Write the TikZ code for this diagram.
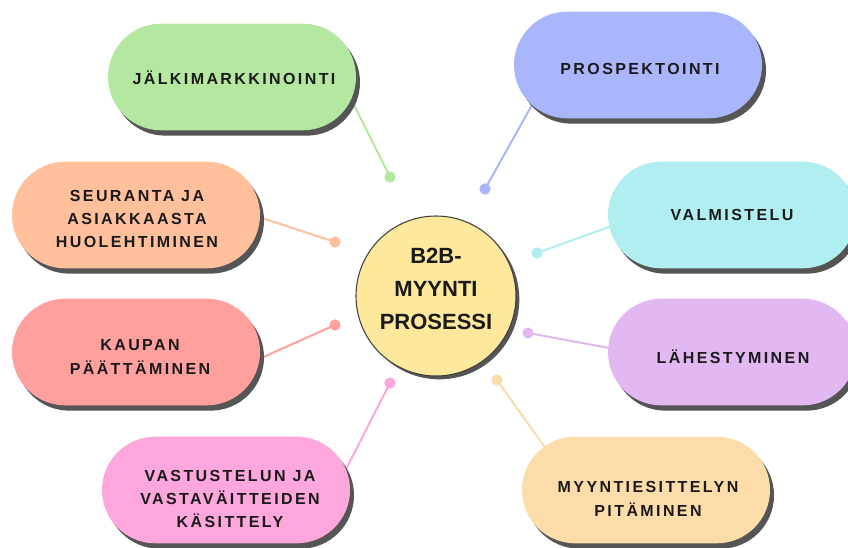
\documentclass[tikz,border=0pt]{standalone}
\usepackage{fontspec}
\setmainfont{Liberation Sans}
\newfontfamily\pillfont{Liberation Sans}[LetterSpace=15]
\usetikzlibrary{shapes.misc,shadows}
\definecolor{cgreen}{HTML}{B4E7A0}
\definecolor{cblue}{HTML}{A9B6FB}
\definecolor{ccyan}{HTML}{B1EEF0}
\definecolor{corange}{HTML}{FFC09B}
\definecolor{cred}{HTML}{FFA09E}
\definecolor{clilac}{HTML}{E2B8F2}
\definecolor{cpink}{HTML}{FDA7DC}
\definecolor{cpeach}{HTML}{FCDDAA}
\definecolor{cyel}{HTML}{FDE89C}
\definecolor{txt}{HTML}{1A1A1A}
\definecolor{shd}{HTML}{555555}
\tikzset{
  pill/.style={rounded rectangle, fill=#1, minimum width=186pt, minimum height=80pt,
    inner sep=0pt,
    drop shadow={shadow xshift=3pt, shadow yshift=-4pt, fill=shd, opacity=1}},
  ptext/.style={align=center, text=txt, inner sep=0pt,
    font=\pillfont\bfseries\fontsize{12}{17.5}\selectfont},
  link/.style={draw=#1, line width=1.5pt},
  dotn/.style={circle, fill=#1, minimum size=8.5pt, inner sep=0pt},
}
\begin{document}
\begin{tikzpicture}[x=0.75pt,y=-0.75pt]
\useasboundingbox (0,0) rectangle (848,548);
\clip (0,0) rectangle (848,548);
% dots
\node[dotn=cgreen]  (dg) at (390,177) {};
\node[dotn=cblue]   (db) at (485,189) {};
\node[dotn=corange] (do) at (335,242) {};
\node[dotn=ccyan]   (dc) at (537,253) {};
\node[dotn=cred]    (dr) at (335,325) {};
\node[dotn=clilac]  (dl) at (528,333) {};
\node[dotn=cpink]   (dp) at (390,383) {};
\node[dotn=cpeach]  (dy) at (497,380) {};
% connector ends inside pills
\coordinate (eg) at (350,97);
\coordinate (eb) at (537,96);
\coordinate (ec) at (620,223);
\coordinate (eo) at (250,214);
\coordinate (er) at (250,363);
\coordinate (el) at (620,350);
\coordinate (ep) at (342,477);
\coordinate (ey) at (551,456);
\draw[link=cgreen]  (dg.center) -- (eg);
\draw[link=cblue]   (db.center) -- (eb);
\draw[link=ccyan]   (dc.center) -- (ec);
\draw[link=corange] (do.center) -- (eo);
\draw[link=cred]    (dr.center) -- (er);
\draw[link=clilac]  (dl.center) -- (el);
\draw[link=cpink]   (dp.center) -- (ep);
\draw[link=cpeach]  (dy.center) -- (ey);
% pills
\node[pill=cgreen]  (g) at (232,77)  {};
\node[pill=cblue]   (b) at (638,65)  {};
\node[pill=ccyan]   (c) at (732,215) {};
\node[pill=corange] (o) at (136,215) {};
\node[pill=cred]    (r) at (136,352) {};
\node[pill=clilac]  (l) at (732,352) {};
\node[pill=cpink]   (p) at (226,490) {};
\node[pill=cpeach]  (y) at (646,490) {};
% pill texts
\node[ptext] (gt) at (234,78)  {JÄLKIMARKKINOINTI};
\node[ptext] (bt) at (640,69)  {PROSPEKTOINTI};
\node[ptext] (ct) at (732,215) {VALMISTELU};
\node[ptext] (ot) at (137,219) {SEURANTA JA\\ASIAKKAASTA\\HUOLEHTIMINEN};
\node[ptext] (rt) at (140,357) {KAUPAN\\PÄÄTTÄMINEN};
\node[ptext] (lt) at (733,357) {LÄHESTYMINEN};
\node[ptext] (pt) at (230,499) {VASTUSTELUN JA\\VASTAVÄITTEIDEN\\KÄSITTELY};
\node[ptext] (yt) at (648,499) {MYYNTIESITTELYN\\PITÄMINEN};
% center
\node[circle, fill=cyel, draw=black!75, line width=0.8pt, minimum size=120pt, inner sep=0pt,
  drop shadow={shadow xshift=2.5pt, shadow yshift=-2.5pt, fill=shd, opacity=1}]
  (m) at (436,296) {};
\node[align=center, text=txt, font=\bfseries\fontsize{16.5}{24.5}\selectfont, inner sep=0pt]
  (mt) at (436,289) {B2B-\\MYYNTI\\PROSESSI};
\end{tikzpicture}
\end{document}
